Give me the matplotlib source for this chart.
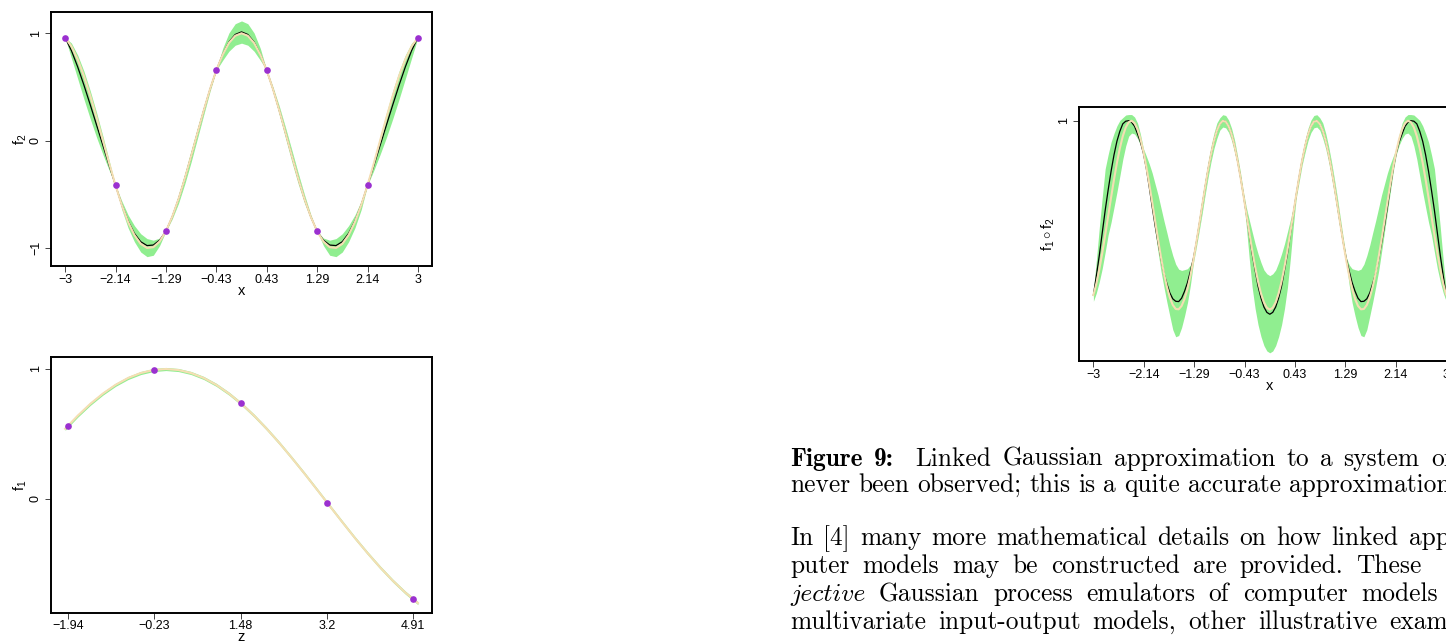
import matplotlib.pyplot as plt

plt.rcParams['font.family'] = ['Liberation Sans', 'DejaVu Sans']
plt.rcParams['mathtext.fontset'] = 'custom'
plt.rcParams['mathtext.rm'] = 'Liberation Sans'
plt.rcParams['mathtext.it'] = 'Liberation Sans'

# ---- data -------------------------------------------------------------
# evaluation grid for f2 (design points fall on the grid)
x_grid = [-3.000, -2.893, -2.786, -2.679, -2.571, -2.464, -2.357, -2.250, -2.143, -2.036,
          -1.929, -1.821, -1.714, -1.607, -1.500, -1.393, -1.286, -1.179, -1.071, -0.964,
          -0.857, -0.750, -0.643, -0.536, -0.429, -0.321, -0.214, -0.107, 0.000, 0.107,
          0.214, 0.321, 0.429, 0.536, 0.643, 0.750, 0.857, 0.964, 1.071, 1.179,
          1.286, 1.393, 1.500, 1.607, 1.714, 1.821, 1.929, 2.036, 2.143, 2.250,
          2.357, 2.464, 2.571, 2.679, 2.786, 2.893, 3.000]

# f2: true function, emulator mean and credible band
f2_true = [0.960, 0.879, 0.757, 0.601, 0.417, 0.215, 0.002, -0.211, -0.414, -0.598,
           -0.755, -0.877, -0.959, -0.997, -0.990, -0.937, -0.842, -0.708, -0.541, -0.350,
           -0.143, 0.071, 0.281, 0.479, 0.655, 0.800, 0.910, 0.977, 1.000, 0.977,
           0.910, 0.800, 0.655, 0.479, 0.281, 0.071, -0.143, -0.350, -0.541, -0.708,
           -0.842, -0.937, -0.990, -0.997, -0.959, -0.877, -0.755, -0.598, -0.414, -0.211,
           0.002, 0.215, 0.417, 0.601, 0.757, 0.879, 0.960]
f2_mean = [0.960, 0.839, 0.687, 0.516, 0.332, 0.145, -0.043, -0.231, -0.414, -0.596,
           -0.747, -0.862, -0.939, -0.975, -0.970, -0.925, -0.842, -0.708, -0.541, -0.350,
           -0.143, 0.071, 0.281, 0.479, 0.655, 0.803, 0.918, 0.989, 1.013, 0.989,
           0.918, 0.803, 0.655, 0.479, 0.281, 0.071, -0.143, -0.350, -0.541, -0.708,
           -0.842, -0.925, -0.970, -0.975, -0.939, -0.862, -0.747, -0.596, -0.414, -0.231,
           -0.043, 0.145, 0.332, 0.516, 0.687, 0.839, 0.960]
f2_upper = [0.960, 0.909, 0.797, 0.646, 0.462, 0.260, 0.042, -0.186, -0.414, -0.560,
            -0.690, -0.790, -0.865, -0.910, -0.925, -0.905, -0.842, -0.688, -0.501, -0.300,
            -0.088, 0.121, 0.321, 0.499, 0.655, 0.858, 1.003, 1.089, 1.115, 1.089,
            1.003, 0.858, 0.655, 0.499, 0.321, 0.121, -0.088, -0.300, -0.501, -0.688,
            -0.842, -0.905, -0.925, -0.910, -0.865, -0.790, -0.690, -0.560, -0.414, -0.186,
            0.042, 0.260, 0.462, 0.646, 0.797, 0.909, 0.960]
f2_lower = [0.960, 0.769, 0.577, 0.386, 0.202, 0.030, -0.128, -0.276, -0.414, -0.640,
            -0.810, -0.940, -1.035, -1.078, -1.065, -0.975, -0.842, -0.728, -0.581, -0.400,
            -0.198, 0.021, 0.241, 0.459, 0.655, 0.748, 0.833, 0.889, 0.908, 0.889,
            0.833, 0.748, 0.655, 0.459, 0.241, 0.021, -0.198, -0.400, -0.581, -0.728,
            -0.842, -0.975, -1.065, -1.078, -1.035, -0.940, -0.810, -0.640, -0.414, -0.276,
            -0.128, 0.030, 0.202, 0.386, 0.577, 0.769, 0.960]
x_design = [-3.000, -2.143, -1.286, -0.429, 0.429, 1.286, 2.143, 3.000]
f2_design = [0.960, -0.414, -0.842, 0.655, 0.655, -0.842, -0.414, 0.960]
x_tick_labels = ['\u22123', '\u22122.14', '\u22121.29', '\u22120.43', '0.43', '1.29', '2.14', '3']

# f1 on its own input z
z_grid = [-2.00, -1.75, -1.50, -1.25, -1.00, -0.75, -0.50, -0.25, 0.00, 0.25,
          0.50, 0.75, 1.00, 1.25, 1.50, 1.75, 2.00, 2.25, 2.50, 2.75,
          3.00, 3.25, 3.50, 3.75, 4.00, 4.25, 4.50, 4.75, 5.00]
f1_true = [0.540, 0.641, 0.732, 0.811, 0.878, 0.931, 0.969, 0.992, 1.000, 0.992,
           0.969, 0.931, 0.878, 0.811, 0.732, 0.641, 0.540, 0.431, 0.315, 0.195,
           0.071, -0.054, -0.178, -0.300, -0.416, -0.526, -0.628, -0.720, -0.801]
f1_upper = [0.552, 0.653, 0.744, 0.823, 0.890, 0.943, 0.981, 1.004, 1.012, 1.004,
            0.981, 0.943, 0.890, 0.823, 0.744, 0.653, 0.552, 0.443, 0.327, 0.207,
            0.083, -0.042, -0.166, -0.288, -0.404, -0.514, -0.616, -0.708, -0.789]
f1_lower = [0.528, 0.629, 0.720, 0.799, 0.866, 0.919, 0.957, 0.980, 0.988, 0.980,
            0.957, 0.919, 0.866, 0.799, 0.720, 0.629, 0.528, 0.419, 0.303, 0.183,
            0.059, -0.066, -0.190, -0.312, -0.428, -0.538, -0.640, -0.732, -0.813]
z_design = [-1.94, -0.23, 1.48, 3.20, 4.91]
f1_design = [0.565, 0.993, 0.738, -0.029, -0.773]
z_tick_labels = ['\u22121.94', '\u22120.23', '1.48', '3.2', '4.91']

# linked approximation of f1(f2(x)) on a finer grid
comp_x = [-3.00, -2.95, -2.90, -2.85, -2.80, -2.75, -2.70, -2.65, -2.60, -2.55,
          -2.50, -2.45, -2.40, -2.35, -2.30, -2.25, -2.20, -2.15, -2.10, -2.05,
          -2.00, -1.95, -1.90, -1.85, -1.80, -1.75, -1.70, -1.65, -1.60, -1.55,
          -1.50, -1.45, -1.40, -1.35, -1.30, -1.25, -1.20, -1.15, -1.10, -1.05,
          -1.00, -0.95, -0.90, -0.85, -0.80, -0.75, -0.70, -0.65, -0.60, -0.55,
          -0.50, -0.45, -0.40, -0.35, -0.30, -0.25, -0.20, -0.15, -0.10, -0.05,
          0.00, 0.05, 0.10, 0.15, 0.20, 0.25, 0.30, 0.35, 0.40, 0.45,
          0.50, 0.55, 0.60, 0.65, 0.70, 0.75, 0.80, 0.85, 0.90, 0.95,
          1.00, 1.05, 1.10, 1.15, 1.20, 1.25, 1.30, 1.35, 1.40, 1.45,
          1.50, 1.55, 1.60, 1.65, 1.70, 1.75, 1.80, 1.85, 1.90, 1.95,
          2.00, 2.05, 2.10, 2.15, 2.20, 2.25, 2.30, 2.35, 2.40, 2.45,
          2.50, 2.55, 2.60, 2.65, 2.70, 2.75, 2.80, 2.85, 2.90, 2.95,
          3.00]
comp_true = [0.8870, 0.8944, 0.9036, 0.9142, 0.9258, 0.9379, 0.9501, 0.9618, 0.9727, 0.9822,
             0.9900, 0.9957, 0.9990, 1.0000, 0.9984, 0.9945, 0.9882, 0.9800, 0.9701, 0.9590,
             0.9471, 0.9349, 0.9228, 0.9114, 0.9011, 0.8924, 0.8854, 0.8806, 0.8780, 0.8778,
             0.8800, 0.8845, 0.8911, 0.8996, 0.9096, 0.9209, 0.9328, 0.9450, 0.9570, 0.9683,
             0.9784, 0.9870, 0.9936, 0.9979, 0.9999, 0.9994, 0.9964, 0.9911, 0.9836, 0.9744,
             0.9637, 0.9521, 0.9399, 0.9278, 0.9160, 0.9053, 0.8958, 0.8881, 0.8823, 0.8788,
             0.8776, 0.8788, 0.8823, 0.8881, 0.8958, 0.9053, 0.9160, 0.9278, 0.9399, 0.9521,
             0.9637, 0.9744, 0.9836, 0.9911, 0.9964, 0.9994, 0.9999, 0.9979, 0.9936, 0.9870,
             0.9784, 0.9683, 0.9570, 0.9450, 0.9328, 0.9209, 0.9096, 0.8996, 0.8911, 0.8845,
             0.8800, 0.8778, 0.8780, 0.8806, 0.8854, 0.8924, 0.9011, 0.9114, 0.9228, 0.9349,
             0.9471, 0.9590, 0.9701, 0.9800, 0.9882, 0.9945, 0.9984, 1.0000, 0.9990, 0.9957,
             0.9900, 0.9822, 0.9727, 0.9618, 0.9501, 0.9379, 0.9258, 0.9142, 0.9036, 0.8944,
             0.8870]
comp_mean = [0.8870, 0.8994, 0.9126, 0.9272, 0.9418, 0.9549, 0.9671, 0.9778, 0.9867, 0.9932,
             0.9980, 0.9997, 1.0000, 0.9990, 0.9964, 0.9915, 0.9862, 0.9790, 0.9691, 0.9570,
             0.9441, 0.9319, 0.9208, 0.9104, 0.9011, 0.8944, 0.8884, 0.8846, 0.8830, 0.8828,
             0.8850, 0.8895, 0.8951, 0.9026, 0.9106, 0.9209, 0.9328, 0.9450, 0.9570, 0.9683,
             0.9784, 0.9870, 0.9936, 0.9979, 0.9999, 0.9994, 0.9964, 0.9911, 0.9836, 0.9744,
             0.9637, 0.9521, 0.9399, 0.9268, 0.9140, 0.9033, 0.8928, 0.8851, 0.8793, 0.8758,
             0.8746, 0.8758, 0.8793, 0.8851, 0.8928, 0.9033, 0.9140, 0.9268, 0.9399, 0.9521,
             0.9637, 0.9744, 0.9836, 0.9911, 0.9964, 0.9994, 0.9999, 0.9979, 0.9936, 0.9870,
             0.9784, 0.9683, 0.9570, 0.9450, 0.9328, 0.9209, 0.9106, 0.9026, 0.8951, 0.8895,
             0.8850, 0.8828, 0.8830, 0.8846, 0.8884, 0.8944, 0.9011, 0.9104, 0.9208, 0.9319,
             0.9441, 0.9570, 0.9691, 0.9790, 0.9862, 0.9915, 0.9964, 0.9990, 1.0000, 0.9997,
             0.9980, 0.9932, 0.9867, 0.9778, 0.9671, 0.9549, 0.9418, 0.9272, 0.9126, 0.8994,
             0.8870]
comp_upper = [0.8900, 0.9094, 0.9306, 0.9502, 0.9688, 0.9779, 0.9861, 0.9918, 0.9967, 1.0002,
              1.0020, 1.0037, 1.0040, 1.0040, 1.0024, 0.9985, 0.9912, 0.9820, 0.9771, 0.9720,
              0.9661, 0.9589, 0.9518, 0.9434, 0.9351, 0.9274, 0.9194, 0.9126, 0.9070, 0.9038,
              0.9030, 0.9035, 0.9041, 0.9066, 0.9116, 0.9239, 0.9368, 0.9500, 0.9620, 0.9733,
              0.9834, 0.9920, 0.9986, 1.0019, 1.0039, 1.0034, 1.0004, 0.9951, 0.9876, 0.9774,
              0.9667, 0.9541, 0.9439, 0.9358, 0.9280, 0.9203, 0.9138, 0.9081, 0.9033, 0.9008,
              0.8996, 0.9008, 0.9033, 0.9081, 0.9138, 0.9203, 0.9280, 0.9358, 0.9439, 0.9541,
              0.9667, 0.9774, 0.9876, 0.9951, 1.0004, 1.0034, 1.0039, 1.0019, 0.9986, 0.9920,
              0.9834, 0.9733, 0.9620, 0.9500, 0.9368, 0.9239, 0.9116, 0.9066, 0.9041, 0.9035,
              0.9030, 0.9038, 0.9070, 0.9126, 0.9194, 0.9274, 0.9351, 0.9434, 0.9518, 0.9589,
              0.9661, 0.9720, 0.9771, 0.9820, 0.9912, 0.9985, 1.0024, 1.0040, 1.0040, 1.0037,
              1.0020, 1.0002, 0.9967, 0.9918, 0.9861, 0.9779, 0.9688, 0.9502, 0.9306, 0.9094,
              0.8900]
comp_lower = [0.8830, 0.8884, 0.8956, 0.9042, 0.9148, 0.9259, 0.9341, 0.9438, 0.9537, 0.9642,
              0.9750, 0.9837, 0.9900, 0.9920, 0.9914, 0.9885, 0.9842, 0.9780, 0.9671, 0.9540,
              0.9411, 0.9279, 0.9148, 0.9024, 0.8921, 0.8824, 0.8734, 0.8646, 0.8600, 0.8608,
              0.8660, 0.8735, 0.8821, 0.8936, 0.9076, 0.9179, 0.9288, 0.9400, 0.9520, 0.9633,
              0.9734, 0.9820, 0.9886, 0.9939, 0.9959, 0.9954, 0.9924, 0.9871, 0.9796, 0.9714,
              0.9607, 0.9501, 0.9319, 0.9108, 0.8920, 0.8783, 0.8678, 0.8601, 0.8543, 0.8508,
              0.8496, 0.8508, 0.8543, 0.8601, 0.8678, 0.8783, 0.8920, 0.9108, 0.9319, 0.9501,
              0.9607, 0.9714, 0.9796, 0.9871, 0.9924, 0.9954, 0.9959, 0.9939, 0.9886, 0.9820,
              0.9734, 0.9633, 0.9520, 0.9400, 0.9288, 0.9179, 0.9076, 0.8936, 0.8821, 0.8735,
              0.8660, 0.8608, 0.8600, 0.8646, 0.8734, 0.8824, 0.8921, 0.9024, 0.9148, 0.9279,
              0.9411, 0.9540, 0.9671, 0.9780, 0.9842, 0.9885, 0.9914, 0.9920, 0.9900, 0.9837,
              0.9750, 0.9642, 0.9537, 0.9438, 0.9341, 0.9259, 0.9148, 0.9042, 0.8956, 0.8884,
              0.8830]

# caption and running text: each line is a list of (text, font) pieces
text_lines = [
    [('Figure 9:', 'cmb10'), ('  Linked Gaussian approximation to a system of', 'cmr10')],
    [('never been observed; this is a quite accurate approximation', 'cmr10')],
    [('In [4] many more mathematical details on how linked approximations', 'cmr10')],
    [('puter models may be constructed are provided. These', 'cmr10')],
    [('jective', 'cmmi10'), (' Gaussian process emulators of computer models', 'cmr10')],
    [('multivariate input-output models, other illustrative examples', 'cmr10')],
]
text_baselines = [466, 492, 545, 573, 601, 629]
word_gaps = [11.0, 8.0, 10.0, 13.0, 13.5, 12.0]   # justified inter-word space, px

# ---- drawing ----------------------------------------------------------
W, H = 1446, 641
BAND = '#90ee90'
TRUTH = '#f5deb3'
MEAN = 'black'
POINT = '#9b30d0'


def style_axes(ax, xlim, ylim, xticks, xlabels, yticks, ylabels):
    ax.set_xlim(xlim)
    ax.set_ylim(ylim)
    ax.set_xticks(xticks)
    ax.set_xticklabels(xlabels)
    ax.set_yticks(yticks)
    ax.set_yticklabels(ylabels, rotation=90, va='center')
    ax.tick_params(direction='out', length=4.3, width=0.7, color='#444444', labelsize=9)
    ax.tick_params(axis='x', pad=1.2)
    ax.tick_params(axis='y', pad=2.2)
    for sp in ax.spines.values():
        sp.set_linewidth(1.4)


def draw_emulator(ax, x, lower, upper, mean, truth, xd, yd):
    ax.fill_between(x, lower, upper, color=BAND, lw=0)
    if mean is not None:
        ax.plot(x, mean, color=MEAN, lw=0.9)
    ax.plot(x, truth, color=TRUTH, lw=1.5)
    ax.plot(xd, yd, 'o', color=POINT, ms=4.8, mec='none')


def set_labels(ax, xlab, ylab, xlab_y, ylab_x):
    ax.set_xlabel(xlab, fontsize=10.5)
    ax.xaxis.set_label_coords(0.5, xlab_y)
    ax.xaxis.label.set_va('baseline')
    ax.set_ylabel(ylab, fontsize=10.5)
    ax.yaxis.set_label_coords(ylab_x, 0.5)
    ax.yaxis.label.set_va('center')


fig = plt.figure(figsize=(W / 100, H / 100), dpi=100)

# f2(x)
ax1 = fig.add_axes([0.03527, 0.58502, 0.2635, 0.39626])
draw_emulator(ax1, x_grid, f2_lower, f2_upper, f2_mean, f2_true, x_design, f2_design)
style_axes(ax1, (-3.24, 3.24), (-1.165, 1.198), x_design, x_tick_labels,
           [-1, 0, 1], ['\u22121', '0', '1'])
set_labels(ax1, 'x', r'$\mathrm{f}_2$', -0.114, -0.081)

# f1(z)
ax2 = fig.add_axes([0.03527, 0.04415, 0.2635, 0.39844])
draw_emulator(ax2, z_grid, f1_lower, f1_upper, None, f1_true, z_design, f1_design)
style_axes(ax2, (-2.28, 5.28), (-0.875, 1.09), z_design, z_tick_labels,
           [0, 1], ['0', '1'])
set_labels(ax2, 'z', r'$\mathrm{f}_1$', -0.111, -0.081)

# f1(f2(x))
ax3 = fig.add_axes([0.7464, 0.43682, 0.2635, 0.39579])
draw_emulator(ax3, comp_x, comp_lower, comp_upper, comp_mean, comp_true, [], [])
style_axes(ax3, (-3.24, 3.24), (0.8443, 1.0087), x_design, x_tick_labels,
           [1], ['1'])
set_labels(ax3, 'x', r'$\mathrm{f}_1 \circ \mathrm{f}_2$', -0.114, -0.081)

# caption and running text, set word by word so each line can be justified
renderer = fig.canvas.get_renderer()
for pieces, base, gap in zip(text_lines, text_baselines, word_gaps):
    x = 790
    for s, family in pieces:
        for k, word in enumerate(s.split(' ')):
            if k > 0:
                x += gap
            if word:
                t = fig.text(x / W, 1 - base / H, word, fontfamily=family,
                             fontsize=18.3, va='baseline')
                x += t.get_window_extent(renderer).width

fig.savefig('out.png', dpi=100)
